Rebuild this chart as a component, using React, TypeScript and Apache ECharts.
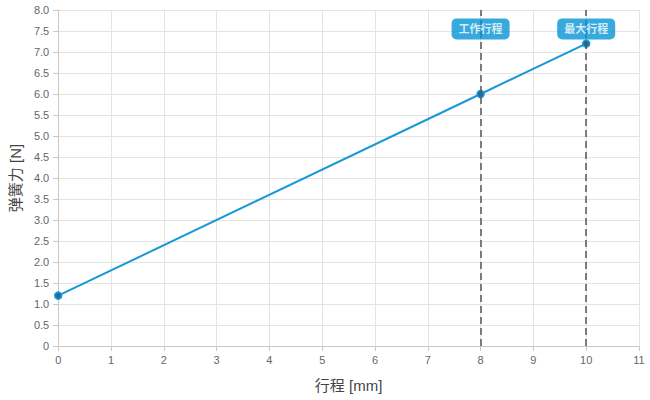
import React, { useEffect, useRef } from "react";
import * as echarts from "echarts";

const strokeData: [number, number][] = [
  [0, 1.2],
  [8, 6.0],
  [10, 7.2],
];
const markerX = [8, 10];
const markerLabels = ["工作行程", "最大行程"];
const markerLabelY = 7.55;
const xName = "行程 [mm]";
const yName = "弹簧力 [N]";

const FONT = "'Liberation Sans', 'Noto Sans CJK SC', sans-serif";

export default function App() {
  const ref = useRef<HTMLDivElement>(null);
  useEffect(() => {
    if (!ref.current) return;
    const chart = echarts.init(ref.current, undefined, { renderer: "svg" });
    chart.setOption({
      animation: false,
      textStyle: { fontFamily: FONT },
      grid: { left: 55, right: 11, top: 10, bottom: 54 },
      xAxis: {
        type: "value",
        min: 0,
        max: 11,
        interval: 1,
        name: xName,
        nameLocation: "middle",
        nameGap: 32,
        nameTextStyle: { fontSize: 15, color: "#444", fontFamily: FONT },
        axisLine: { show: true, lineStyle: { color: "#c8c8c8" } },
        axisTick: { show: true, length: 5, lineStyle: { color: "#c8c8c8" } },
        axisLabel: { color: "#666", fontSize: 11, margin: 8 },
        splitLine: { show: true, lineStyle: { color: "#e4e4e4" } },
      },
      yAxis: {
        type: "value",
        min: 0,
        max: 8,
        interval: 0.5,
        name: yName,
        nameLocation: "middle",
        nameGap: 34,
        nameTextStyle: { fontSize: 15, color: "#444", fontFamily: FONT },
        axisLine: { show: true, lineStyle: { color: "#c8c8c8" } },
        axisTick: { show: true, length: 5, lineStyle: { color: "#c8c8c8" } },
        axisLabel: {
          color: "#666",
          fontSize: 11,
          margin: 9,
          formatter: (v: number) => (v === 0 ? "0" : v.toFixed(1)),
        },
        splitLine: { show: true, lineStyle: { color: "#e4e4e4" } },
      },
      series: [
        {
          type: "line",
          data: strokeData,
          symbol: "circle",
          symbolSize: 7,
          showSymbol: true,
          lineStyle: { color: "#1a98d5", width: 2 },
          itemStyle: { color: "#1f6f99", borderColor: "#1a98d5", borderWidth: 1.5 },
          z: 2,
          markLine: {
            silent: true,
            symbol: "none",
            z: 5,
            label: { show: false },
            lineStyle: { color: "#555", type: [7, 4], width: 1.5 },
            data: markerX.map((x) => ({ xAxis: x })),
          },
        },
        {
          type: "scatter",
          symbolSize: 0,
          z: 10,
          data: markerX.map((x, i) => ({ value: [x, markerLabelY], name: markerLabels[i] })),
          label: {
            show: true,
            position: "inside",
            formatter: (p: any) => p.name,
            color: "#fff",
            fontSize: 11,
            fontWeight: "bold",
            fontFamily: FONT,
            backgroundColor: "#0593d3",
            borderRadius: 5,
            padding: [5, 7, 5, 7],
          },
        },
      ],
    });
    return () => chart.dispose();
  }, []);
  return <div ref={ref} style={{ width: 650, height: 400, position: "absolute", left: 0, top: 0 }} />;
}
